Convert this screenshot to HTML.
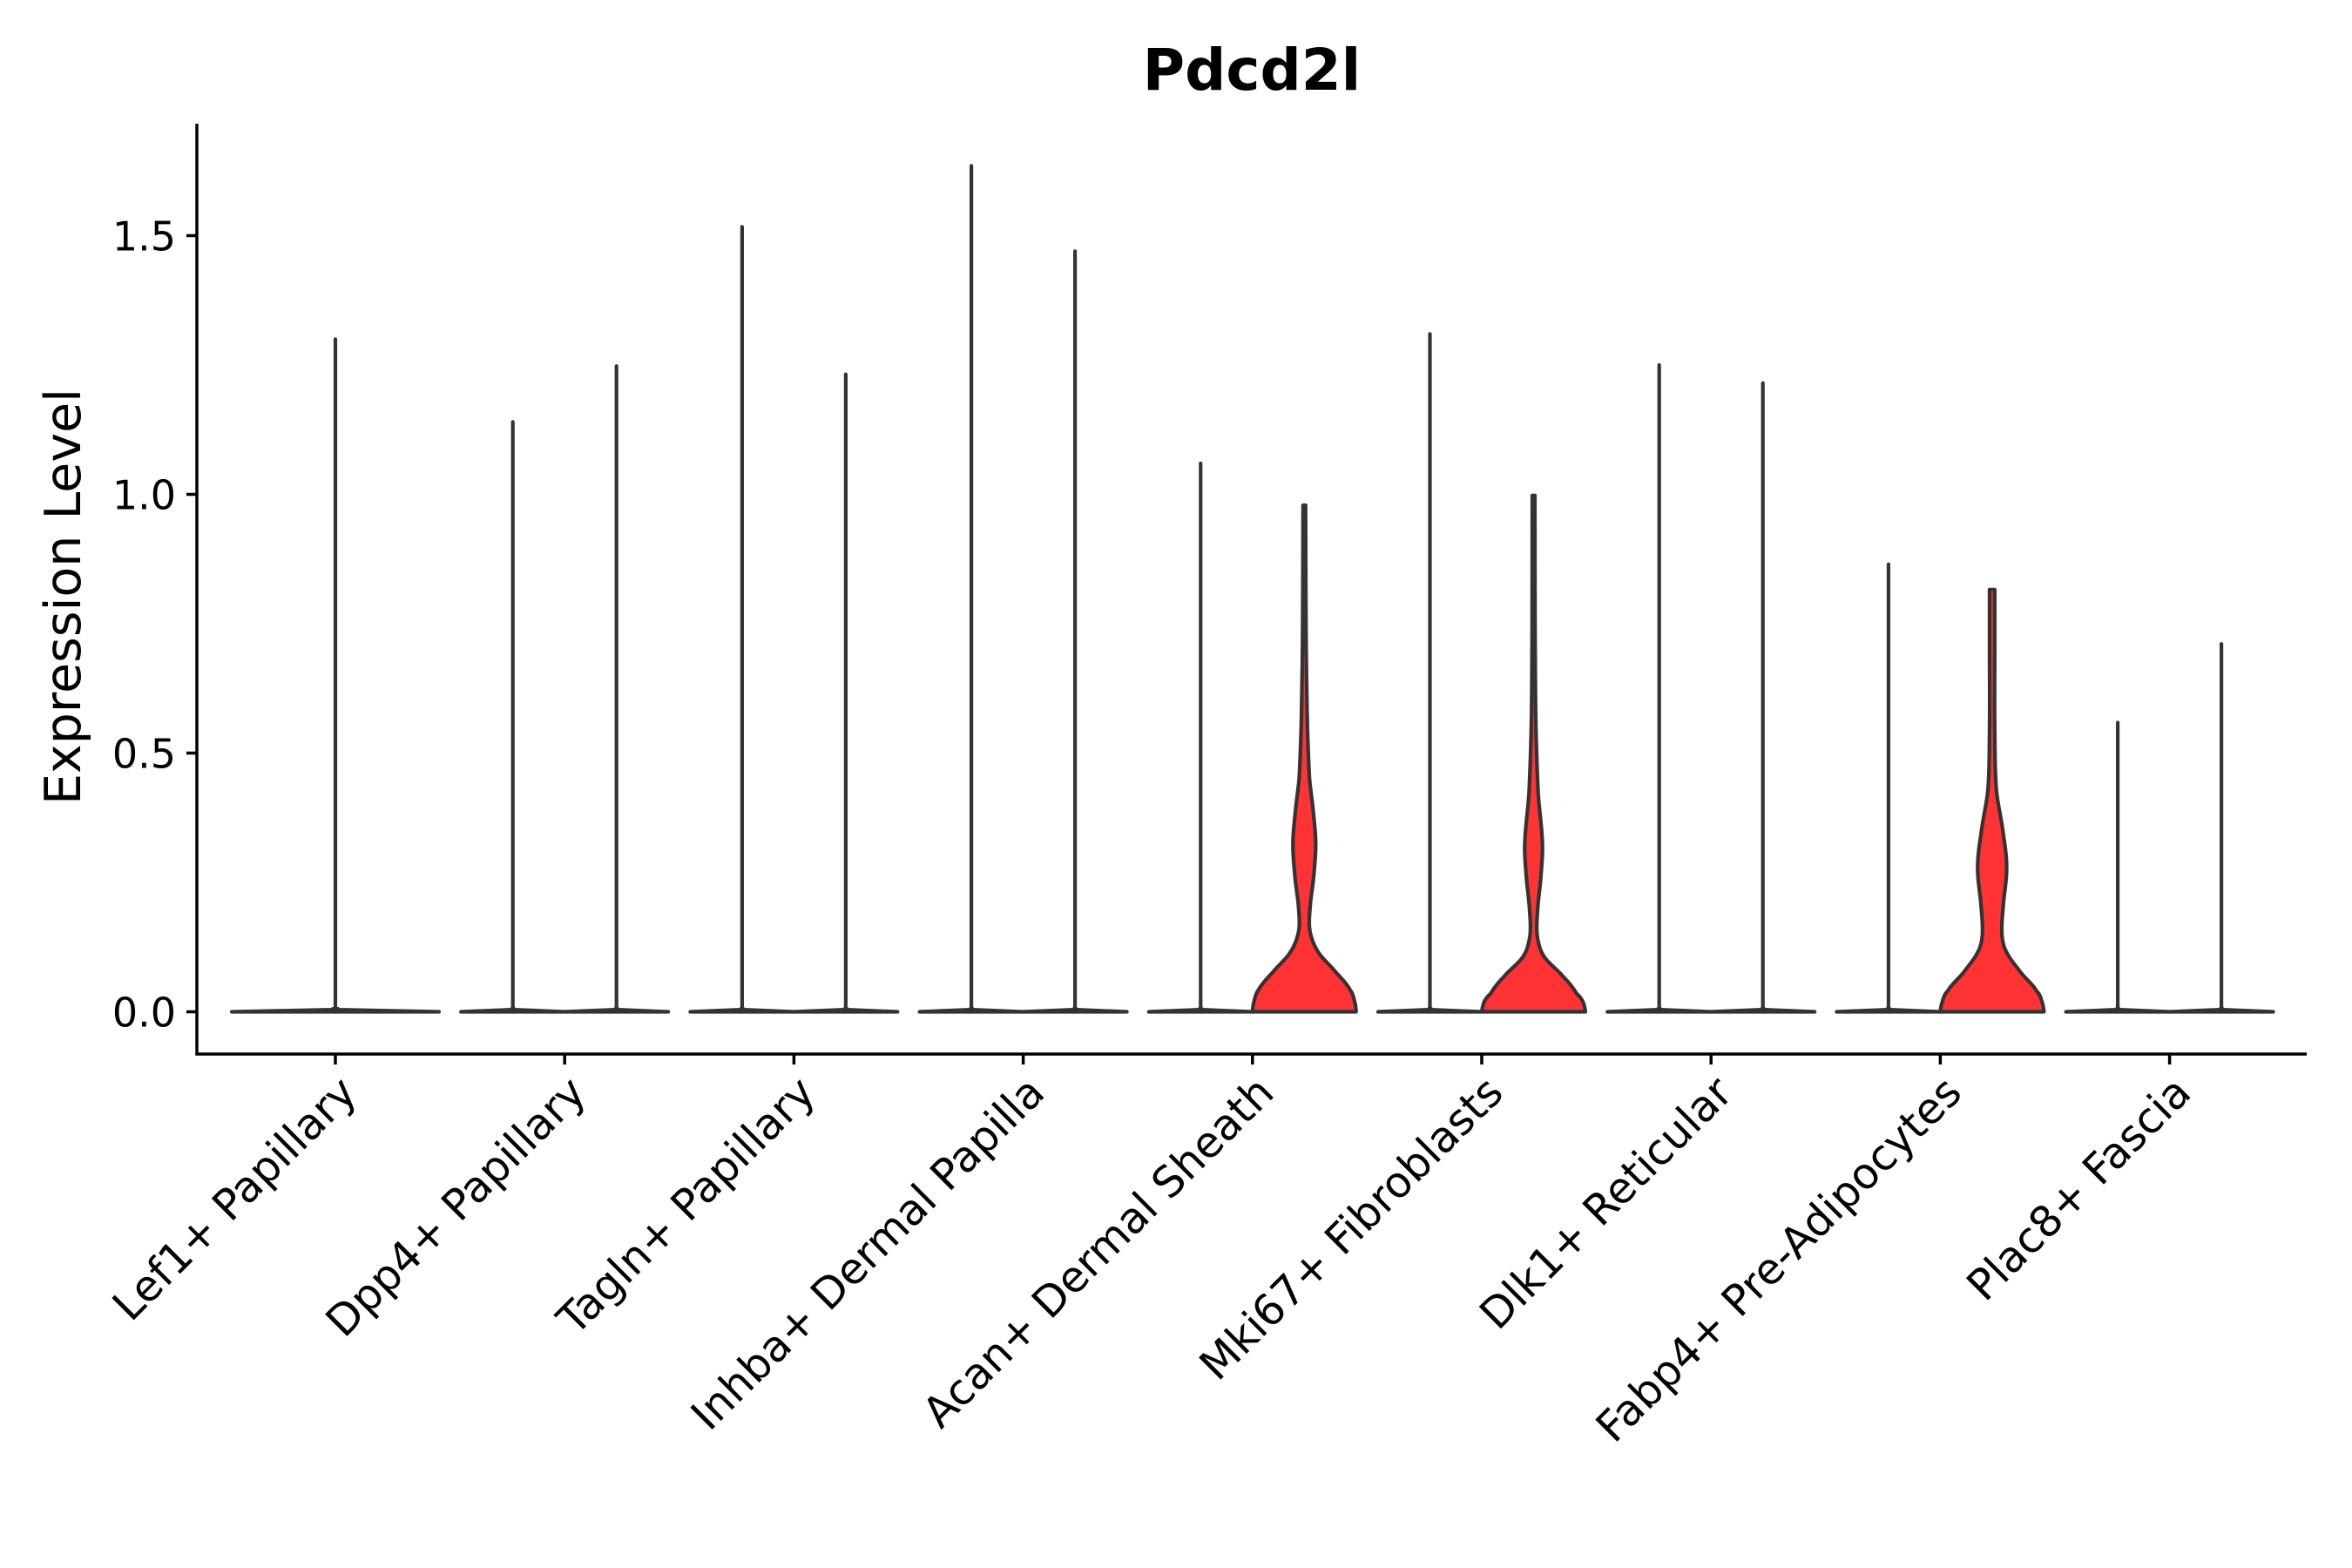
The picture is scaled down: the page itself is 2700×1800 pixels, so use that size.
<!DOCTYPE html>
<html><head><meta charset="utf-8">
<style>
html,body{margin:0;padding:0;background:#fff;}
svg{display:block;font-family:"DejaVu Sans","Liberation Sans",sans-serif;}
</style></head>
<body>
<svg id="chart" width="2700" height="1800" viewBox="0 0 2700 1800" xmlns="http://www.w3.org/2000/svg">
<rect width="2700" height="1800" fill="#fff"/>
<text x="1437" y="103" font-size="66" font-weight="bold" text-anchor="middle">Pdcd2l</text>
<text transform="translate(92,685) rotate(-90)" font-size="57" text-anchor="middle">Expression Level</text>
<g id="plot"></g>
</svg>
<script>
const categories = ["Lef1+ Papillary","Dpp4+ Papillary","Tagln+ Papillary","Inhba+ Dermal Papilla","Acan+ Dermal Sheath","Mki67+ Fibroblasts","Dlk1+ Reticular","Fabp4+ Pre-Adipocytes","Plac8+ Fascia"];
const maxLeft = [1.30, 1.14, 1.517, 1.635, 1.06, 1.31, 1.25, 0.865, 0.559];
const maxRight = [null, 1.248, 1.232, 1.47, 0.979, 0.998, 1.215, 0.816, 0.711];
const yTicks = [0.0, 0.5, 1.0, 1.5];
const yTickLabels = ["0.0", "0.5", "1.0", "1.5"];
const redIndex = [4, 5, 7];
const redLevels = [
  [0,0.02,0.043,0.075,0.115,0.155,0.2,0.26,0.325,0.39,0.45,0.55,0.71,0.979],
  [0,0.02,0.035,0.067,0.107,0.147,0.2,0.26,0.325,0.42,0.55,0.71,0.998],
  [0,0.02,0.04,0.075,0.115,0.147,0.2,0.276,0.34,0.43,0.55,0.7,0.816]
];
const redWidths = [
  [1,0.97,0.88,0.62,0.27,0.11,0.11,0.18,0.22,0.17,0.1,0.06,0.035,0.025],
  [1,0.95,0.83,0.58,0.2,0.07,0.08,0.14,0.17,0.09,0.045,0.03,0.025],
  [1,0.96,0.86,0.56,0.28,0.19,0.21,0.28,0.22,0.08,0.05,0.05,0.05]
];

const NS = "http://www.w3.org/2000/svg";
const plot = document.getElementById("plot");
const X0 = 226, X1 = 2648, YTOP = 142, YAXIS = 1210;
function yScale(v){ return 1161.5 - v * 594; }
function xScale(i){ return 385 + i * 263.2; }
const SUB = 59.5, HALF = 59.5;
const LW = 4.2;

function mk(tag, attrs){ const e = document.createElementNS(NS, tag); for (const k in attrs) e.setAttribute(k, attrs[k]); plot.appendChild(e); return e; }

function smoothProfile(levels, widths){
  const pts = [];
  const n = levels.length;
  for (let k = 0; k < n - 1; k++){
    const p0 = k > 0 ? k - 1 : k, p3 = k + 2 < n ? k + 2 : k + 1;
    for (let s = 0; s < 8; s++){
      const t = s / 8;
      const cr = (a, b, c, d) => 0.5 * ((2*b) + (-a + c)*t + (2*a - 5*b + 4*c - d)*t*t + (-a + 3*b - 3*c + d)*t*t*t);
      const lv = levels[k] + (levels[k+1] - levels[k]) * t;
      let w = cr(widths[p0], widths[k], widths[k+1], widths[p3]);
      if (w < 0.01) w = 0.01;
      pts.push([lv, w]);
    }
  }
  pts.push([levels[n-1], widths[n-1]]);
  return pts;
}

function violinPath(cx, half, pts){
  let d = "M" + (cx - half * pts[0][1]) + "," + yScale(pts[0][0]);
  for (let k = 0; k < pts.length; k++) d += " L" + (cx + half * pts[k][1]) + "," + yScale(pts[k][0]);
  for (let k = pts.length - 1; k >= 0; k--) d += " L" + (cx - half * pts[k][1]) + "," + yScale(pts[k][0]);
  return d + " Z";
}

categories.forEach((cat, i) => {
  const c = xScale(i);
  const single = maxRight[i] === null;
  const subs = single ? [[c, 2*HALF, maxLeft[i], "left"]] : [[c - SUB, HALF, maxLeft[i], "left"], [c + SUB, HALF, maxRight[i], "right"]];
  subs.forEach(s => {
    const [cx, half, mx, side] = s;
    const ri = redIndex.indexOf(i);
    if (side === "right" && ri >= 0){
      const p = mk("path", {d: violinPath(cx, half, smoothProfile(redLevels[ri], redWidths[ri])), fill: "#ff3333", stroke: "#333333", "stroke-width": LW, "stroke-linejoin": "round"});
      
      
    } else {
      const p = mk("path", {d: violinPath(cx, half, [[0,1],[0.004,0.04],[0.006,0.02]]), fill: "#ffffff", stroke: "#333333", "stroke-width": LW, "stroke-linejoin": "round", "stroke-linecap": "round"});
      
      
      const l = mk("line", {x1: cx, x2: cx, y1: yScale(0), y2: yScale(mx), stroke: "#333333", "stroke-width": LW, "stroke-linecap": "round"});
      
      
    }
  });
  const t = mk("line", {x1: c, x2: c, y1: YAXIS, y2: YAXIS + 12, stroke: "#000", "stroke-width": 3.5});
  
  
  const lab = mk("text", {x: 0, y: 0, "font-size": 49, "text-anchor": "end", transform: "translate(" + (c + 27) + "," + (YAXIS + 47) + ") rotate(-45)"});
  lab.textContent = cat;
  
  
});

yTicks.forEach((v, k) => {
  const y = yScale(v);
  const t = mk("line", {x1: X0 - 12, x2: X0, y1: y, y2: y, stroke: "#000", "stroke-width": 3.5});
  
  
  const lab = mk("text", {x: X0 - 24, y: y + 17, "font-size": 46, "text-anchor": "end"});
  lab.textContent = yTickLabels[k];
  
  
});

const ax = mk("path", {d: "M" + X0 + "," + YTOP + " L" + X0 + "," + YAXIS + " L" + X1 + "," + YAXIS, fill: "none", stroke: "#000", "stroke-width": 3.5});


</script>
</body></html>
